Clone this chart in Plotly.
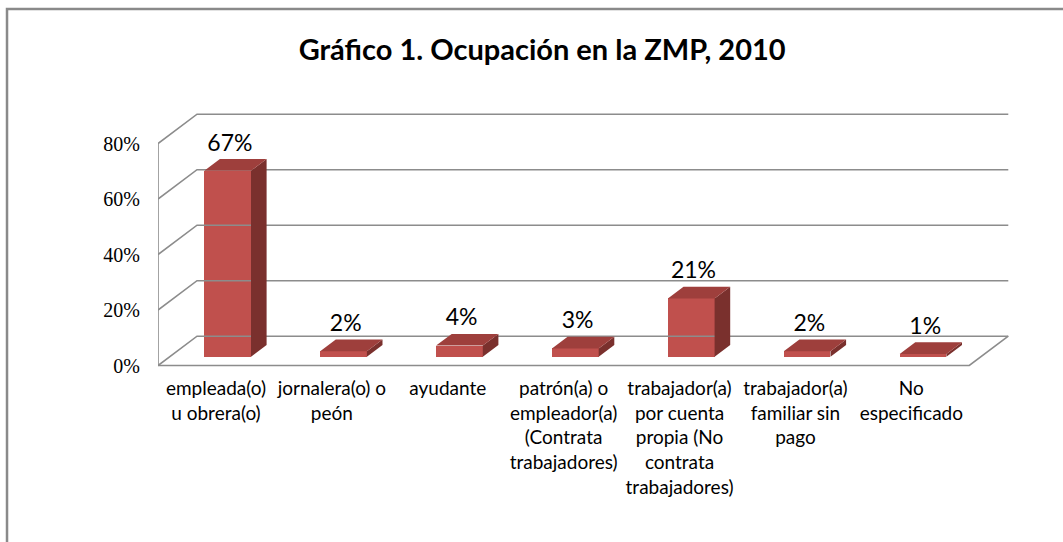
import plotly.graph_objects as go

# ---------------- data ----------------
categories = [
    "empleada(o)<br>u obrera(o)",
    "jornalera(o) o<br>peón",
    "ayudante",
    "patrón(a) o<br>empleador(a)<br>(Contrata<br>trabajadores)",
    "trabajador(a)<br>por cuenta<br>propia (No<br>contrata<br>trabajadores)",
    "trabajador(a)<br>familiar sin<br>pago",
    "No<br>especificado",
]
values = [67, 2, 4, 3, 21, 2, 1]
labels = ["67%", "2%", "4%", "3%", "21%", "2%", "1%"]
y_ticks = [0, 20, 40, 60, 80]
y_tick_text = ["0%", "20%", "40%", "60%", "80%"]
title = "Gráfico 1. Ocupación en la ZMP, 2010"

# ---------------- style / 3D geometry (axis units) ----------------
FRONT_COLOR = "#C0504D"
TOP_COLOR = "#9E3F3C"
SIDE_COLOR = "#7A302D"
GRID_COLOR = "#8C8C8C"
DEPTH_X, DEPTH_Y = 0.3365, 10.56      # full floor depth vector
FRONT_FRAC, BAR_FRAC = 0.3, 0.4       # bar front plane & bar depth as fraction of depth
BAR_W = 0.403
X0, X1 = -0.5, len(values) - 0.5
Y_MAX_WALL = y_ticks[-1]

fig = go.Figure()

# walls / gridlines
gx, gy = [], []
for t in y_ticks:
    gx += [X0, X0 + DEPTH_X, X1 + DEPTH_X, None]
    gy += [t, t + DEPTH_Y, t + DEPTH_Y, None]
# front left vertical edge
gx += [X0, X0, None]
gy += [0, Y_MAX_WALL, None]
# floor front edge and right diagonal
gx += [X0, X1, X1 + DEPTH_X, None]
gy += [0, 0, DEPTH_Y, None]
fig.add_trace(go.Scatter(x=gx, y=gy, mode="lines",
                         line=dict(color=GRID_COLOR, width=1.6),
                         hoverinfo="skip", showlegend=False))

fx = FRONT_FRAC * DEPTH_X
fy = FRONT_FRAC * DEPTH_Y
bx = BAR_FRAC * DEPTH_X
by = BAR_FRAC * DEPTH_Y

# front faces
fig.add_trace(go.Bar(x=list(range(len(values))), y=values, base=fy,
                     width=BAR_W, offset=fx - BAR_W / 2,
                     marker=dict(color=FRONT_COLOR, line=dict(width=0)),
                     hoverinfo="skip", showlegend=False))

# side and top faces
sx, sy, tx, ty = [], [], [], []
for i, v in enumerate(values):
    xl = i + fx - BAR_W / 2
    xr = i + fx + BAR_W / 2
    b = fy
    top = v + fy
    sx += [xr, xr + bx, xr + bx, xr, xr, None]
    sy += [b, b + by, top + by, top, b, None]
    tx += [xl, xr, xr + bx, xl + bx, xl, None]
    ty += [top, top, top + by, top + by, top, None]
fig.add_trace(go.Scatter(x=sx, y=sy, mode="lines", fill="toself",
                         fillcolor=SIDE_COLOR, line=dict(width=0, color=SIDE_COLOR),
                         hoverinfo="skip", showlegend=False))
fig.add_trace(go.Scatter(x=tx, y=ty, mode="lines", fill="toself",
                         fillcolor=TOP_COLOR, line=dict(width=0, color=TOP_COLOR),
                         hoverinfo="skip", showlegend=False))

# data labels
fig.add_trace(go.Scatter(x=[i + 0.12 for i in range(len(values))],
                         y=[v + 12.5 for v in values],
                         mode="text", text=labels, textposition="middle center",
                         textfont=dict(family="Lato", size=23, color="#000000"),
                         hoverinfo="skip", showlegend=False))

# outer frame
fig.add_shape(type="path", xref="paper", yref="paper",
              path="M -0.1706,-0.75 L -0.1706,1.291 L 1.05,1.291",
              line=dict(color="#8A8A8A", width=2.5))

fig.update_layout(
    width=1063, height=542,
    margin=dict(l=158, r=20, t=90, b=174),
    paper_bgcolor="white", plot_bgcolor="white",
    title=dict(text="<b>" + title + "</b>", x=0.51, xref="container",
               y=0.908, yref="container", xanchor="center", yanchor="middle",
               font=dict(family="Lato", size=29, color="#000000")),
    xaxis=dict(range=[-0.5, 7.136], tickmode="array",
               tickvals=list(range(len(categories))), ticktext=categories,
               showgrid=False, zeroline=False, showline=False, ticks="",
               tickfont=dict(family="Lato", size=19, color="#000000"),
               ticklabelstandoff=7, fixedrange=True),
    yaxis=dict(range=[-0.9, 99.28], tickmode="array", tickvals=y_ticks,
               ticktext=y_tick_text,
               showgrid=False, zeroline=False, showline=False, ticks="",
               tickfont=dict(family="Liberation Serif", size=20, color="#000000"),
               ticklabelstandoff=17, fixedrange=True),
    bargap=0,
)

fig.write_html("out.html", config={"displayModeBar": False},
               post_script="document.body.style.margin='0';document.body.style.overflow='hidden';")
